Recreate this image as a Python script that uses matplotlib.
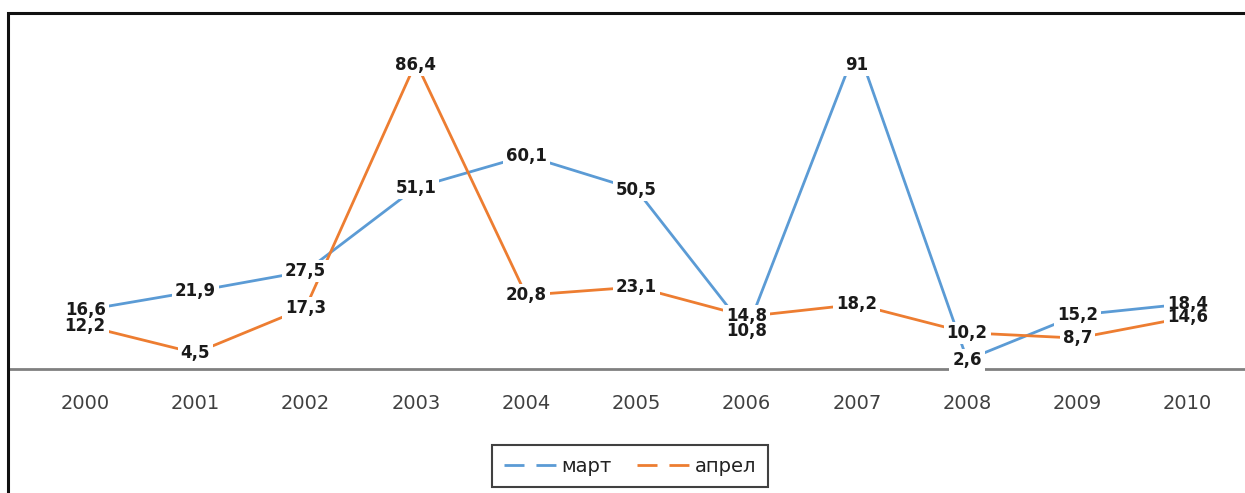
import matplotlib
matplotlib.use("Agg")
import matplotlib.pyplot as plt
from matplotlib.lines import Line2D
from matplotlib.patches import Rectangle

years = ["2000", "2001", "2002", "2003", "2004", "2005", "2006", "2007", "2008", "2009", "2010"]
mart = [16.6, 21.9, 27.5, 51.1, 60.1, 50.5, 10.8, 91, 2.6, 15.2, 18.4]
april = [12.2, 4.5, 17.3, 86.4, 20.8, 23.1, 14.8, 18.2, 10.2, 8.7, 14.6]
series_names = ["март", "апрел"]
colors = ["#5B9BD5", "#ED7D31"]

W, H = 1245, 493
fig = plt.figure(figsize=(W / 100, H / 100), dpi=100)
fig.patch.set_facecolor("white")

# plot area: left at px 8, top at px 58, bottom (zero line) at px 369
top_px, bot_px = 58, 369
ax = fig.add_axes([8 / W, 1 - bot_px / H, (W - 8) / W + 0.01, (bot_px - top_px) / H])
ax.set_facecolor("none")
x = list(range(len(years)))
ax.set_xlim(-0.70, 10.52 + 0.01 * W / 110.3)
ymax = (bot_px - top_px) / 3.55
ax.set_ylim(0, ymax)

for vals, col in zip([mart, april], colors):
    ax.plot(x, vals, color=col, lw=2.0, solid_capstyle="round", zorder=2)

labels = []
for vals in [mart, april]:
    for xi, v in zip(x, vals):
        s = f"{v:g}".replace(".", ",")
        yy = min(v, ymax - 2.0)
        t = ax.text(xi, yy, s, ha="center", va="center", color="#1a1a1a", zorder=5,
                    fontsize=12, fontweight="bold", clip_on=False)
        labels.append(t)

for s in ["top", "right", "left"]:
    ax.spines[s].set_visible(False)
ax.spines["bottom"].set_color("#808080")
ax.spines["bottom"].set_linewidth(2.0)
ax.set_yticks([])
ax.set_xticks(x)
ax.set_xticklabels(years, fontsize=14, color="#404040")
ax.tick_params(axis="x", length=0, pad=18)

# outer chart frame
fig.patches.append(Rectangle((8 / W, -0.1), 1.1, 1 - 13 / H + 0.1, transform=fig.transFigure,
                             fill=False, ec="#111111", lw=2.2, zorder=10))

handles = [Line2D([0], [0], color=c, lw=2.0, dashes=(7.2, 4.3)) for c in colors]
leg = fig.legend(handles, series_names, loc="center", bbox_to_anchor=(630 / W, 1 - 466 / H),
                 ncol=2, frameon=True, fontsize=14, handlelength=2.8, handletextpad=0.15,
                 columnspacing=1.3, borderpad=0.6, borderaxespad=0, fancybox=False)
leg.get_frame().set_edgecolor("#111111")
leg.get_frame().set_linewidth(1.5)
for t in leg.get_texts():
    t.set_color("#222222")

# white boxes behind the data labels (hide the lines, but not other labels)
fig.canvas.draw()
renderer = fig.canvas.get_renderer()
inv = fig.transFigure.inverted()
for t in labels:
    bb = t.get_window_extent(renderer)
    (x0, y0), (x1, y1) = inv.transform([[bb.x0 - 3, bb.y0 - 2], [bb.x1 + 3, bb.y1 + 2]])
    ax.add_patch(Rectangle((x0, y0), x1 - x0, y1 - y0, transform=fig.transFigure,
                           fc="white", ec="none", zorder=3, clip_on=False))

fig.savefig("out.png", dpi=100, facecolor="white")
